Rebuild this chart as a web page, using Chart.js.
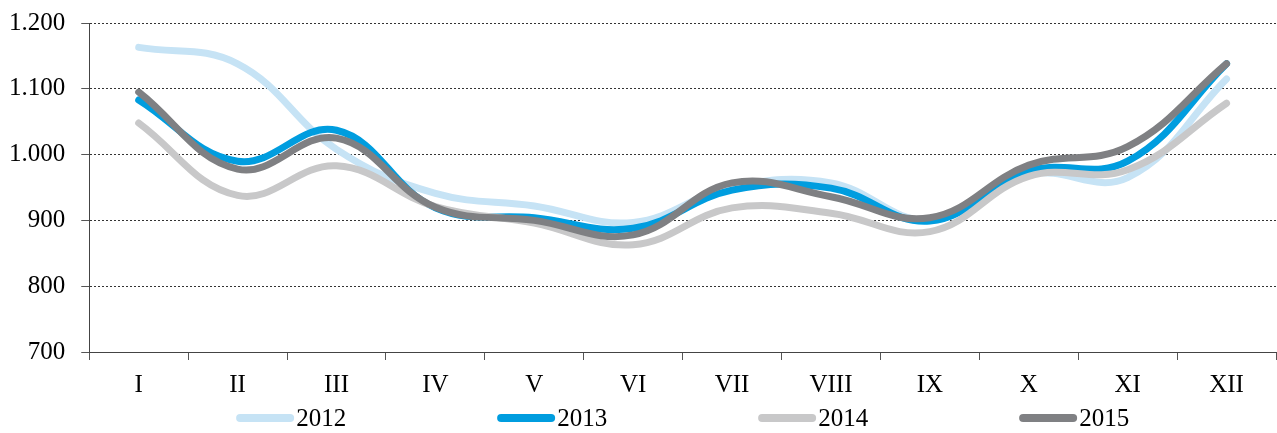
<!DOCTYPE html>
<html>
<head>
<meta charset="utf-8">
<script src="https://cdn.jsdelivr.net/npm/chart.js"></script>
<style>
  html, body { margin: 0; padding: 0; background: #fff; }
  #wrap { width: 1277px; height: 433px; }
</style>
</head>
<body>
<div id="wrap"><canvas id="monthChart" width="1277" height="433"></canvas></div>
<script>
// months (roman numerals) and yearly series
const months = ['I', 'II', 'III', 'IV', 'V', 'VI', 'VII', 'VIII', 'IX', 'X', 'XI', 'XII'];
const years = ['2012', '2013', '2014', '2015'];
const values2012 = [1163, 1138, 1008, 941, 922, 897, 951, 957, 900, 970, 965, 1115];
const values2013 = [1083, 990, 1037, 919, 904, 888, 946, 949, 899, 975, 990, 1138];
const values2014 = [1048, 938, 983, 921, 896, 863, 919, 911, 883, 967, 977, 1078];
const values2015 = [1095, 978, 1025, 920, 900, 878, 957, 936, 904, 984, 1012, 1138];
const yTicks = [700, 800, 900, 1000, 1100, 1200];

const colors = ['#C6E3F5', '#009DDF', '#C8C8C9', '#7F8083'];
const series = [values2012, values2013, values2014, values2015];

const fontFamily = '"Liberation Serif", "Times New Roman", serif';

// legend drawn under the plot area, centred on it like the original
const bottomLegend = {
    id: 'bottomLegend',
    afterDraw(chart) {
        const ctx = chart.ctx;
        const area = chart.chartArea;
        const pitch = 261, swatch = 58, gap = 2;
        ctx.save();
        ctx.font = '25px ' + fontFamily;
        const textW = ctx.measureText(years[0]).width;
        const total = (years.length - 1) * pitch + swatch + gap + textW;
        let x = (area.left + area.right) / 2 - total / 2;
        const y = 418;
        chart.data.datasets.forEach(ds => {
            ctx.strokeStyle = ds.borderColor;
            ctx.lineWidth = 8;
            ctx.lineCap = 'round';
            ctx.beginPath();
            ctx.moveTo(x + 4, y);
            ctx.lineTo(x + swatch - 4, y);
            ctx.stroke();
            ctx.fillStyle = '#000';
            ctx.textBaseline = 'middle';
            ctx.fillText(ds.label, x + swatch + gap, y + 1);
            x += pitch;
        });
        ctx.restore();
    }
};

const ctx = document.getElementById('monthChart').getContext('2d');
new Chart(ctx, {
    type: 'line',
    data: {
        labels: months,
        datasets: years.map((y, i) => ({
            label: y,
            data: series[i],
            borderColor: colors[i],
            backgroundColor: colors[i],
            borderWidth: 7,
            borderCapStyle: 'round',
            tension: 0.4,
            pointRadius: 0,
            fill: false,
            order: years.length - i   // later years drawn on top
        }))
    },
    options: {
        responsive: false,
        animation: false,
        layout: { padding: { left: -7, right: 1, top: 23, bottom: 23 } },
        plugins: {
            legend: { display: false },
            tooltip: { enabled: false }
        },
        scales: {
            x: {
                offset: true,
                grid: {
                    offset: true,
                    drawOnChartArea: false,
                    tickLength: 8,
                    tickColor: '#555',
                    color: '#555'
                },
                border: { display: true, color: '#444', width: 1 },
                ticks: {
                    color: '#000',
                    padding: 10,
                    font: { family: fontFamily, size: 25 }
                }
            },
            y: {
                min: yTicks[0],
                max: yTicks[yTicks.length - 1],
                afterBuildTicks(scale) {
                    scale.ticks = yTicks.map(v => ({ value: v }));
                },
                grid: {
                    color: '#333',
                    lineWidth: 1,
                    tickLength: 8,
                    tickColor: '#555',
                    tickBorderDash: []
                },
                border: { display: true, color: '#444', width: 1, dash: [2, 2] },
                ticks: {
                    color: '#000',
                    padding: 16,
                    font: { family: fontFamily, size: 25, lineHeight: 0.5 },
                    callback: v => v >= 1000 ? '1.' + String(v - 1000).padStart(3, '0') : String(v)
                }
            }
        }
    },
    plugins: [bottomLegend]
});
</script>
</body>
</html>
